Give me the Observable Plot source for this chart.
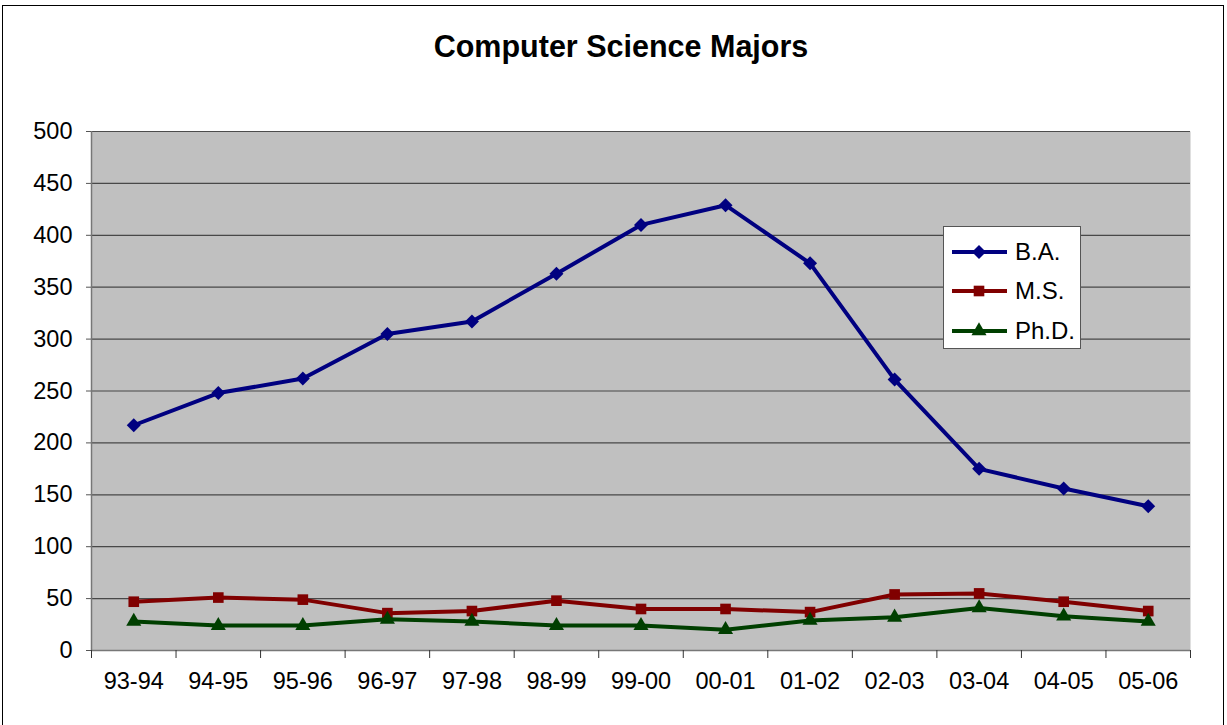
<!DOCTYPE html>
<html><head><meta charset="utf-8">
<script src="https://cdn.jsdelivr.net/npm/d3@7"></script>
<script src="https://cdn.jsdelivr.net/npm/@observablehq/plot@0.6"></script>
<style>
body{margin:0;background:#fff;font-family:"Liberation Sans",Arial,sans-serif;}
#wrap{position:relative;width:1227px;height:725px;overflow:hidden;background:#fff;}
#border{position:absolute;left:2px;top:5px;width:1222px;height:760px;border:1.5px solid #000;box-sizing:border-box;}
#title{position:absolute;left:0;width:1242px;top:29px;line-height:34px;text-align:center;font-weight:bold;font-size:30.5px;color:#000;}
#chart{position:absolute;left:0;top:0;}
#legend{position:absolute;left:943px;top:226px;width:138px;height:123px;box-sizing:border-box;border:1.5px solid #555;background:#fff;}
.row{position:absolute;left:8px;height:30px;display:flex;align-items:center;font-size:24px;}
.row svg{margin-right:5px;}
</style></head>
<body>
<div id="wrap">
<div id="border"></div>
<div id="chart"></div>
<div id="title">Computer Science Majors</div>
<div id="legend"></div>
</div>
<script>
const categories = ["93-94","94-95","95-96","96-97","97-98","98-99","99-00","00-01","01-02","02-03","03-04","04-05","05-06"];
const baValues  = [217, 248, 262, 305, 317, 363, 410, 429, 373, 261, 175, 156, 139];
const msValues  = [47, 51, 49, 36, 38, 48, 40, 40, 37, 54, 55, 47, 38];
const phdValues = [28, 24, 24, 30, 28, 24, 24, 20, 29, 32, 41, 33, 28];
const seriesNames = ["B.A.", "M.S.", "Ph.D."];
const seriesColors = ["#000080", "#800000", "#003f00"];
const seriesSymbols = ["diamond2", "square", "triangle"];
const seriesRadius = [6.3, 6.0, 5.6];
const yTicks = [0, 50, 100, 150, 200, 250, 300, 350, 400, 450, 500];

const allValues = [baValues, msValues, phdValues];
const rows = [];
allValues.forEach((vals, s) => vals.forEach((v, i) => rows.push({series: seriesNames[s], idx: i, cat: categories[i], value: v})));

const lineMarks = [];
seriesNames.forEach((name, s) => {
  const data = rows.filter(r => r.series === name);
  lineMarks.push(Plot.line(data, {x: d => d.idx + 0.5, y: "value", stroke: seriesColors[s], strokeWidth: 4}));
  lineMarks.push(Plot.dot(data, {x: d => d.idx + 0.5, y: "value", fill: seriesColors[s], stroke: "none", symbol: seriesSymbols[s], r: seriesRadius[s]}));
});

const chart = Plot.plot({
  width: 1227, height: 725,
  marginLeft: 91, marginRight: 37, marginTop: 131, marginBottom: 75,
  style: {fontFamily: '"Liberation Sans", Arial, sans-serif', background: "transparent", color: "#000"},
  x: {type: "linear", domain: [0, categories.length]},
  y: {domain: [0, 500]},
  marks: [
    Plot.frame({fill: "#c0c0c0", stroke: "none"}),
    Plot.gridY(yTicks, {stroke: "#333", strokeOpacity: 0.85, strokeWidth: 1.2}),
    Plot.ruleX([0], {stroke: "#777", strokeWidth: 1.5}),
    Plot.ruleY([0], {stroke: "#777", strokeWidth: 1.5}),
    Plot.axisY({ticks: yTicks, tickSize: 5, tickPadding: 14, fontSize: 23.5, label: null, stroke: "#555"}),
    Plot.axisX({ticks: d3.range(0, categories.length + 1), tickFormat: () => "", tickSize: 8, label: null, stroke: "#333"}),
    Plot.text(categories, {x: (d, i) => i + 0.5, frameAnchor: "bottom", dy: 38, fontSize: 23.5, fill: "#000"}),
    ...lineMarks
  ]
});
document.getElementById("chart").appendChild(chart);

// legend
const legend = document.getElementById("legend");
const rowTops = [10, 49, 89];
seriesNames.forEach((name, s) => {
  const row = document.createElement("div");
  row.className = "row";
  row.style.top = rowTops[s] + "px";
  const svg = d3.create("svg").attr("width", 58).attr("height", 30);
  svg.append("line").attr("x1", 0).attr("x2", 55).attr("y1", 15).attr("y2", 15)
    .attr("stroke", seriesColors[s]).attr("stroke-width", 4);
  const sym = seriesSymbols[s] === "square" ? d3.symbolSquare : seriesSymbols[s] === "diamond2" ? d3.symbolDiamond2 : d3.symbolTriangle;
  svg.append("path").attr("transform", "translate(27,15)")
    .attr("d", d3.symbol(sym, Math.PI * seriesRadius[s] * seriesRadius[s])())
    .attr("fill", seriesColors[s]);
  row.appendChild(svg.node());
  const t = document.createElement("span");
  t.textContent = name;
  row.appendChild(t);
  legend.appendChild(row);
});
</script>
</body></html>
